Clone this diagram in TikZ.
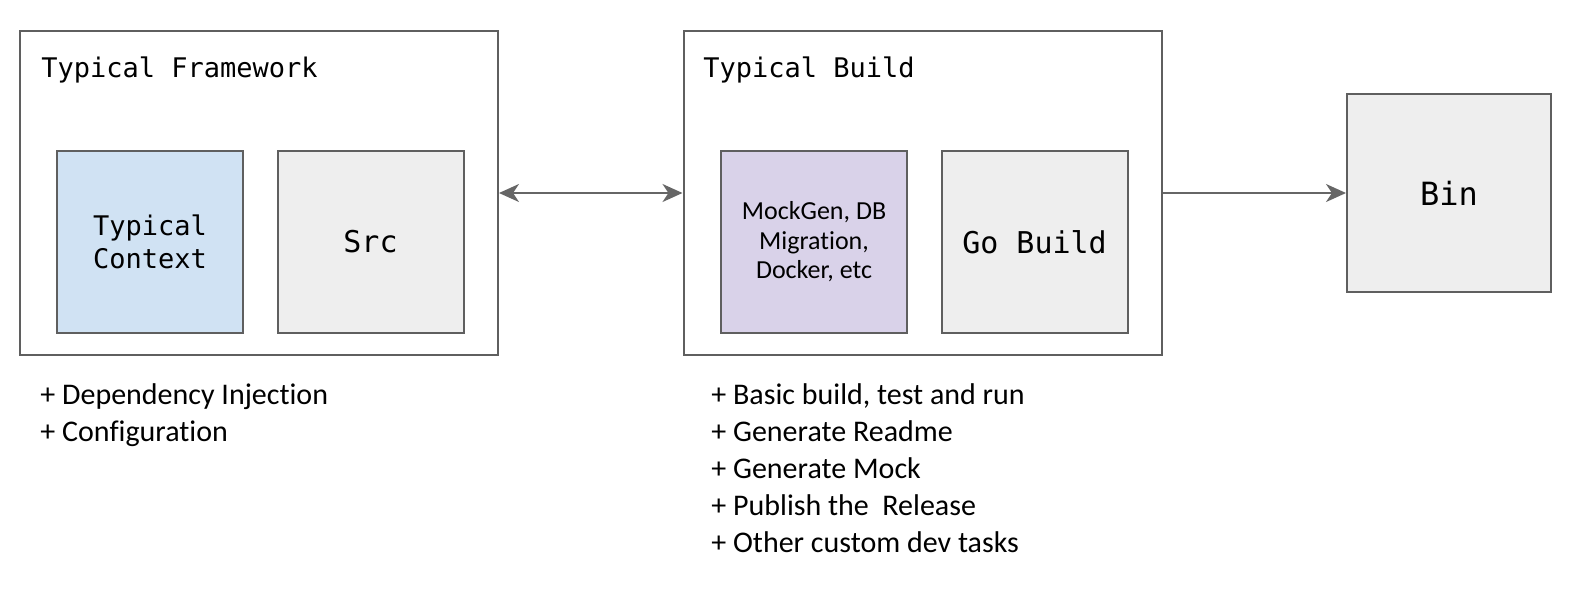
\documentclass[tikz,border=0pt]{standalone}
\usepackage{fontspec}
\setmainfont{Carlito}[Ligatures=NoCommon]
\newfontfamily\monofont{DejaVu Sans Mono}
\usetikzlibrary{arrows.meta}
\definecolor{edgegrey}{HTML}{5F5F5F}
\definecolor{linkgrey}{HTML}{666666}
\definecolor{ctxblue}{HTML}{D0E2F3}
\definecolor{mockpurple}{HTML}{D9D2E9}
\definecolor{boxgrey}{HTML}{EEEEEE}
\tikzset{
frame/.style={draw=edgegrey, line width=1pt, minimum width=239pt, minimum height=162pt, inner sep=0pt},
box/.style={draw=edgegrey, line width=1pt, fill=boxgrey, minimum width=93pt, minimum height=91pt, inner sep=0pt, align=center},
title/.style={anchor=base west, inner sep=0pt, font=\monofont\fontsize{13.5}{16.5}\selectfont},
notes/.style={anchor=north west, inner sep=0pt, align=left, font=\fontsize{15}{18.5}\selectfont},
link/.style={draw=linkgrey, line width=1pt, >={Stealth[length=10pt, width=9pt, inset=3pt]}}
}
\begin{document}
\begin{tikzpicture}[x=0.5pt, y=-0.5pt]
\useasboundingbox (0,0) rectangle (1580,606);
\node[frame] (fw) at (259,193) {};
\node[frame] (bd) at (922.5,193) {};
\node[title] (fwtitle) at (41,77) {Typical Framework};
\node[title] (bdtitle) at (703,77) {Typical Build};
\node[box, fill=ctxblue, font=\monofont\fontsize{13.5}{16.5}\selectfont] (ctx) at (150,242) {Typical\\Context};
\node[box, font=\monofont\fontsize{15}{18}\selectfont] (src) at (370.5,242) {Src};
\node[box, fill=mockpurple, font=\fontsize{13}{14.8}\selectfont] (mock) at (814,242) {MockGen, DB\\Migration,\\Docker, etc};
\node[box, font=\monofont\fontsize{15}{18}\selectfont] (gob) at (1034.5,242) {Go Build};
\node[box, minimum width=102pt, minimum height=99pt, font=\monofont\fontsize{16}{19}\selectfont] (bin) at (1449,193) {Bin};
\draw[link, <->] (fw.east) -- (bd.west);
\draw[link, ->] (bd.east) -- (bin.west);
\node[notes] (fwnotes) at (40,383) {+ Dependency Injection\\+ Configuration};
\node[notes] (bdnotes) at (711,383) {+ Basic build, test and run\\+ Generate Readme\\+ Generate Mock\\+ Publish the~ Release\\+ Other custom dev tasks};
\end{tikzpicture}
\end{document}
